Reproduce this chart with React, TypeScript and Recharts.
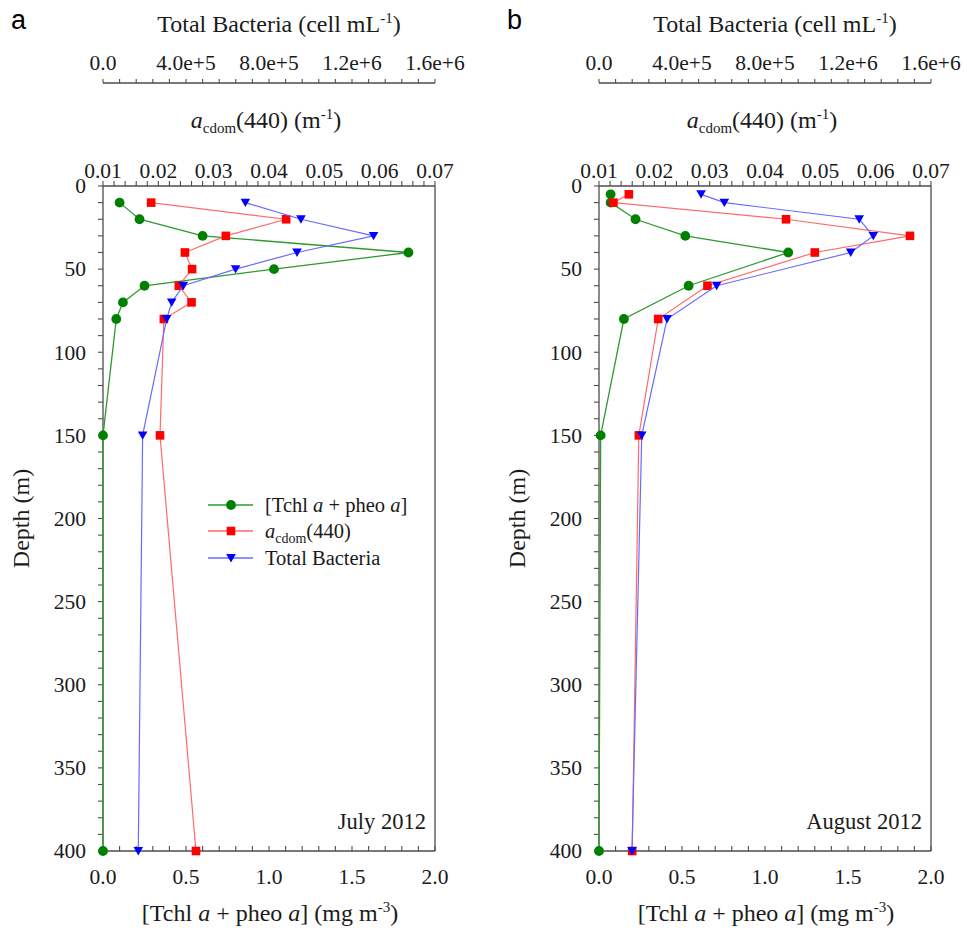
import React from 'react';
import { ScatterChart, Scatter, XAxis, YAxis, ReferenceLine, Legend, Customized } from 'recharts';

// ---------------- data ----------------
// Panel a : July 2012
const julyDepth = [10, 20, 30, 40, 50, 60, 70, 80, 150, 400];
const julyTchl = [0.1, 0.22, 0.6, 1.84, 1.03, 0.25, 0.12, 0.08, 0.0, 0.0];
const julyCdom = [0.0187, 0.0431, 0.0322, 0.0248, 0.0261, 0.0237, 0.026, 0.021, 0.0203, 0.0268];
const julyBacteria = [6.86e5, 9.54e5, 1.304e6, 9.35e5, 6.39e5, 3.87e5, 3.31e5, 3.07e5, 1.91e5, 1.7e5];

// Panel b : August 2012
const augustDepth = [5, 10, 20, 30, 40, 60, 80, 150, 400];
const augustTchl = [0.07, 0.07, 0.22, 0.52, 1.14, 0.54, 0.15, 0.01, 0.0];
const augustCdom = [0.0154, 0.0126, 0.0438, 0.0662, 0.049, 0.0296, 0.0207, 0.0172, 0.016];
const augustBacteria = [4.92e5, 6.04e5, 1.254e6, 1.322e6, 1.213e6, 5.67e5, 3.28e5, 2.06e5, 1.59e5];

// tick labels
const tchlTickLabels = [0, 0.5, 1.0, 1.5, 2.0];
const cdomTickLabels = [0.01, 0.02, 0.03, 0.04, 0.05, 0.06, 0.07];
const bacteriaTickLabels = [0, 4e5, 8e5, 1.2e6, 1.6e6];
const depthTickLabels = [0, 50, 100, 150, 200, 250, 300, 350, 400];

const panelLetters = ['a', 'b'];
const monthLabels = ['July 2012', 'August 2012'];

// ---------------- styling ----------------
const SERIF = "'Liberation Serif', 'Times New Roman', serif";
const SANS = "'Liberation Sans', Arial, sans-serif";
const AXIS = '#4d4d4d';
const TEXT = '#1a1a1a';
const TICK_FS = 21.5;

const GREEN = '#008000';
const GREEN_LINE = '#2f9a2f';
const RED = '#ff0000';
const RED_LINE = '#ff6a6a';
const BLUE = '#0000ff';
const BLUE_LINE = '#6a6aff';

function withMinor(major: number[], per: number): number[] {
  const out: number[] = [];
  for (let i = 0; i < major.length - 1; i++) {
    const a = major[i];
    const b = major[i + 1];
    for (let k = 0; k < per; k++) out.push(a + ((b - a) * k) / per);
  }
  out.push(major[major.length - 1]);
  return out;
}

const isMajor = (v: number, major: number[]) =>
  major.some((m) => Math.abs(m - v) <= 1e-9 * Math.max(1, Math.abs(m)));

const tchlTicks = withMinor(tchlTickLabels, 5);
const cdomTicks = withMinor(cdomTickLabels, 5);
const bacteriaTicks = withMinor(bacteriaTickLabels, 5);
const depthTicks = withMinor(depthTickLabels, 5);

const fmtTchl = (v: number) => (isMajor(v, tchlTickLabels) ? v.toFixed(1) : '');
const fmtCdom = (v: number) => (isMajor(v, cdomTickLabels) ? v.toFixed(2) : '');
const fmtBac = (v: number) =>
  isMajor(v, bacteriaTickLabels) ? (v === 0 ? '0.0' : v.toExponential(1)) : '';
const fmtDepth = (v: number) => (isMajor(v, depthTickLabels) ? String(v) : '');

const axisLineStyle = { stroke: AXIS, strokeWidth: 1.3 };
const tickLineStyle = { stroke: AXIS, strokeWidth: 1.1 };

// custom tick text (serif), positioned from the library-provided tick coordinates
function makeTick(fmt: (v: number) => string, orient: string) {
  return function TickText(props: any) {
    const { x, y, payload } = props;
    const label = fmt(payload.value);
    let ty = y;
    let anchor = 'middle';
    if (orient === 'bottom') ty = y + TICK_FS * 0.71;
    if (orient === 'left') {
      ty = y + TICK_FS * 0.34;
      anchor = 'end';
    }
    return (
      <text
        x={x}
        y={ty}
        textAnchor={anchor}
        style={{ fontFamily: SERIF, fontSize: TICK_FS, fill: TEXT }}
      >
        {label}
      </text>
    );
  };
}

const TchlTick = makeTick(fmtTchl, 'bottom');
const CdomTick = makeTick(fmtCdom, 'top');
const BacTick = makeTick(fmtBac, 'top');
const DepthTick = makeTick(fmtDepth, 'left');

// ---------------- shapes ----------------
const circleShape = (p: any) => <circle cx={p.cx} cy={p.cy} r={4.9} fill={GREEN} />;
const squareShape = (p: any) => (
  <rect x={p.cx - 4.3} y={p.cy - 4.3} width={8.6} height={8.6} fill={RED} />
);
const triShape = (p: any) => (
  <polygon
    points={`${p.cx - 4.8},${p.cy - 4} ${p.cx + 4.8},${p.cy - 4} ${p.cx},${p.cy + 4.4}`}
    fill={BLUE}
  />
);

// ---------------- axis labels ----------------
const LABEL_FS = 24;
const SUP_FS = 15;

const bacteriaLabel = (props: any) => {
  const vb = props.viewBox;
  return (
    <text x={vb.x + vb.width / 2 + 10} y={vb.y + 24} textAnchor="middle" fontFamily={SERIF} fontSize={LABEL_FS} fill={TEXT}>
      {'Total Bacteria (cell mL'}
      <tspan fontSize={SUP_FS} dy={-9}>{'-1'}</tspan>
      <tspan dy={9}>{')'}</tspan>
    </text>
  );
};

const cdomLabel = (props: any) => {
  const vb = props.viewBox;
  return (
    <text x={vb.x + vb.width / 2 - 3} y={vb.y + 45} textAnchor="middle" fontFamily={SERIF} fontSize={LABEL_FS} fill={TEXT}>
      <tspan fontStyle="italic">a</tspan>
      <tspan fontSize={SUP_FS} dy={5}>{'cdom'}</tspan>
      <tspan dy={-5}>{'(440) (m'}</tspan>
      <tspan fontSize={SUP_FS} dy={-9}>{'-1'}</tspan>
      <tspan dy={9}>{')'}</tspan>
    </text>
  );
};

const tchlLabel = (props: any) => {
  const vb = props.viewBox;
  return (
    <text x={vb.x + vb.width / 2 + 1} y={vb.y + 70} textAnchor="middle" fontFamily={SERIF} fontSize={LABEL_FS} fill={TEXT}>
      {'[Tchl '}
      <tspan fontStyle="italic">a</tspan>
      {' + pheo '}
      <tspan fontStyle="italic">a</tspan>
      {'] (mg m'}
      <tspan fontSize={SUP_FS} dy={-9}>{'-3'}</tspan>
      <tspan dy={9}>{')'}</tspan>
    </text>
  );
};

const depthLabel = (props: any) => {
  const vb = props.viewBox;
  const x = vb.x + 24;
  const y = vb.y + vb.height / 2;
  return (
    <text x={x} y={y} transform={`rotate(-90 ${x} ${y})`} textAnchor="middle" fontFamily={SERIF} fontSize={LABEL_FS} fill={TEXT}>
      Depth (m)
    </text>
  );
};

// ---------------- legend ----------------
const legendItems = [
  { key: 'tchl', color: GREEN, line: GREEN_LINE, shape: 'circle' },
  { key: 'cdom', color: RED, line: RED_LINE, shape: 'square' },
  { key: 'bac', color: BLUE, line: BLUE_LINE, shape: 'tri' },
];

const legendText = (key: string) => {
  if (key === 'tchl')
    return (
      <>
        {'[Tchl '}
        <tspan fontStyle="italic">a</tspan>
        {' + pheo '}
        <tspan fontStyle="italic">a</tspan>
        {']'}
      </>
    );
  if (key === 'cdom')
    return (
      <>
        <tspan fontStyle="italic">a</tspan>
        <tspan fontSize={14} dy={5}>{'cdom'}</tspan>
        <tspan dy={-5}>{'(440)'}</tspan>
      </>
    );
  return <>{'Total Bacteria'}</>;
};

const LegendBox = () => {
  const rows = [15, 41, 68];
  return (
    <svg width={240} height={82} style={{ display: 'block', overflow: 'visible' }}>
      {legendItems.map((it, i) => {
        const y = rows[i];
        const cx = 31;
        return (
          <g key={it.key}>
            <line x1={8} x2={53} y1={y} y2={y} stroke={it.line} strokeWidth={1.3} />
            {it.shape === 'circle' && <circle cx={cx} cy={y} r={4.9} fill={it.color} />}
            {it.shape === 'square' && <rect x={cx - 4.3} y={y - 4.3} width={8.6} height={8.6} fill={it.color} />}
            {it.shape === 'tri' && (
              <polygon points={`${cx - 4.8},${y - 4} ${cx + 4.8},${y - 4} ${cx},${y + 4.4}`} fill={it.color} />
            )}
            <text x={65} y={y + 7} fontFamily={SERIF} fontSize={20.5} fill={TEXT}>
              {legendText(it.key)}
            </text>
          </g>
        );
      })}
    </svg>
  );
};

// ---------------- panel ----------------
type PanelProps = {
  letter: string;
  month: string;
  depth: number[];
  tchl: number[];
  cdom: number[];
  bac: number[];
  showLegend: boolean;
};

const Panel = ({ letter, month, depth, tchl, cdom, bac, showLegend }: PanelProps) => {
  const tchlData = depth.map((d, i) => ({ depth: d, tchl: tchl[i] }));
  const cdomData = depth.map((d, i) => ({ depth: d, cdom: cdom[i] }));
  const bacData = depth.map((d, i) => ({ depth: d, bac: bac[i] }));

  return (
    <ScatterChart
      width={490}
      height={935}
      margin={{ top: 8, right: 55, bottom: 0, left: 5 }}
      style={{ fontFamily: SERIF }}
    >
      <XAxis
        xAxisId="a_cdom"
        orientation="top"
        type="number"
        dataKey="cdom"
        domain={[0.01, 0.07]}
        ticks={cdomTicks}
        interval={0}
        height={103}
        tickSize={5}
        tickMargin={3}
        axisLine={axisLineStyle}
        tickLine={tickLineStyle}
        tick={<CdomTick />}
        label={cdomLabel}
      />
      <XAxis
        xAxisId="b_bac"
        orientation="top"
        type="number"
        dataKey="bac"
        domain={[0, 1.6e6]}
        ticks={bacteriaTicks}
        interval={0}
        height={75}
        tickSize={4}
        tickMargin={9}
        axisLine={axisLineStyle}
        tickLine={tickLineStyle}
        tick={<BacTick />}
        label={bacteriaLabel}
      />
      <XAxis
        xAxisId="c_tchl"
        orientation="bottom"
        type="number"
        dataKey="tchl"
        domain={[0, 2]}
        ticks={tchlTicks}
        interval={0}
        height={84}
        tickSize={-5}
        tickMargin={23}
        axisLine={axisLineStyle}
        tickLine={tickLineStyle}
        tick={<TchlTick />}
        label={tchlLabel}
      />
      <YAxis
        type="number"
        dataKey="depth"
        reversed
        domain={[0, 400]}
        ticks={depthTicks}
        interval={0}
        width={98}
        tickSize={5}
        tickMargin={12}
        axisLine={axisLineStyle}
        tickLine={tickLineStyle}
        tick={<DepthTick />}
        label={depthLabel}
      />
      <ReferenceLine xAxisId="c_tchl" x={2} stroke={AXIS} strokeWidth={1.3} />
      <Scatter
        name="tchl"
        data={tchlData}
        xAxisId="c_tchl"
        fill={GREEN}
        line={{ stroke: GREEN_LINE, strokeWidth: 1.3 }}
        shape={circleShape}
        isAnimationActive={false}
      />
      <Scatter
        name="cdom"
        data={cdomData}
        xAxisId="a_cdom"
        fill={RED}
        line={{ stroke: RED_LINE, strokeWidth: 1.2 }}
        shape={squareShape}
        isAnimationActive={false}
      />
      <Scatter
        name="bac"
        data={bacData}
        xAxisId="b_bac"
        fill={BLUE}
        line={{ stroke: BLUE_LINE, strokeWidth: 1.2 }}
        shape={triShape}
        isAnimationActive={false}
      />
      {showLegend && (
        <Legend
          layout="vertical"
          align="center"
          verticalAlign="middle"
          content={() => <LegendBox />}
          wrapperStyle={{ left: 200, top: 490, width: 240, height: 82 }}
        />
      )}
      <Customized
        component={() => (
          <g>
            <text x={11} y={29} fontFamily={SANS} fontSize={27} fill="#000">
              {letter}
            </text>
            <text x={426} y={829} textAnchor="end" fontFamily={SERIF} fontSize={22.5} fill={TEXT}>
              {month}
            </text>
          </g>
        )}
      />
    </ScatterChart>
  );
};

export default function App() {
  return (
    <div style={{ position: 'absolute', left: 0, top: 0, width: 967, height: 935, background: '#fff' }}>
      <div style={{ position: 'absolute', left: 0, top: 0 }}>
        <Panel
          letter={panelLetters[0]}
          month={monthLabels[0]}
          depth={julyDepth}
          tchl={julyTchl}
          cdom={julyCdom}
          bac={julyBacteria}
          showLegend
        />
      </div>
      <div style={{ position: 'absolute', left: 496, top: 0 }}>
        <Panel
          letter={panelLetters[1]}
          month={monthLabels[1]}
          depth={augustDepth}
          tchl={augustTchl}
          cdom={augustCdom}
          bac={augustBacteria}
          showLegend={false}
        />
      </div>
    </div>
  );
}
